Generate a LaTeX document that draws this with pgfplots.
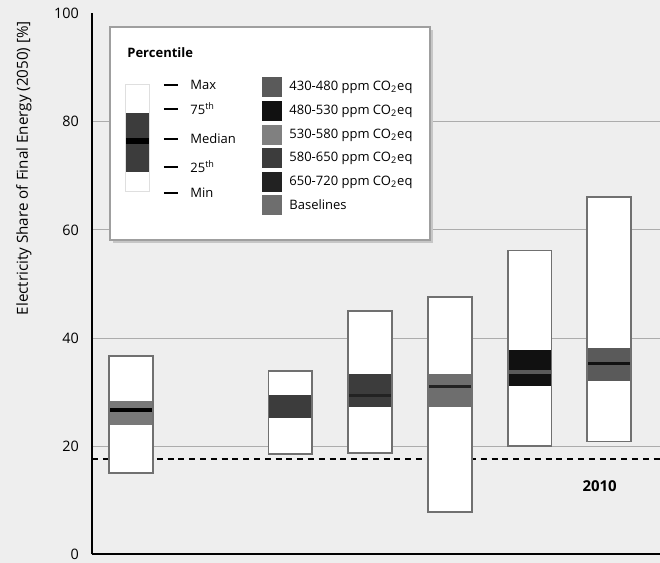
\documentclass[border=0pt]{standalone}
\usepackage{fontspec}
\setmainfont{Open Sans}
\usepackage{pgfplots}
\pgfplotsset{compat=1.18}
\definecolor{bg}{HTML}{EEEEEE}
\definecolor{edge}{HTML}{707070}
\definecolor{cA}{HTML}{5A5A5A}
\definecolor{cB}{HTML}{111111}
\definecolor{cC}{HTML}{808080}
\definecolor{cD}{HTML}{3C3C3C}
\definecolor{cE}{HTML}{222222}
\definecolor{cF}{HTML}{6E6E6E}
\definecolor{cG}{HTML}{787878}
% left x, right x, min, q1, median, q3, max, band colour, median colour
\newcommand{\ebox}[9]{%
\addplot[fill=white, draw=none] coordinates {(#1,#3) (#2,#3) (#2,#7) (#1,#7)} -- cycle;
\addplot[fill=#8, draw=none] coordinates {(#1,#4) (#2,#4) (#2,#6) (#1,#6)} -- cycle;
\addplot[#9, line width=1.7pt] coordinates {(#1,#5) (#2,#5)};
\addplot[edge, line width=0.9pt] coordinates {(#1,#3) (#2,#3) (#2,#7) (#1,#7)} -- cycle;
}
\begin{document}
\begin{tikzpicture}[font=\fontsize{6.5}{8}\selectfont]
\fill[bg] (-46pt,-4.25pt) rectangle (284pt,277.25pt);
\begin{axis}[
  at={(0,0)}, anchor=south west,
  scale only axis, width=284pt, height=270.5pt,
  xmin=-0.489, xmax=6.637, ymin=0, ymax=100,
  axis x line*=bottom, axis y line*=left,
  axis line style={black, line width=1pt},
  xtick=\empty,
  ytick={0,20,40,60,80}, extra y ticks={100}, extra y tick style={grid=none},
  ymajorgrids, grid style={gray!65, line width=0.5pt},
  major tick length=0pt,
  /pgf/number format/assume math mode=true,
  yticklabel style={font=\fontsize{7.2}{8}\selectfont, xshift=-3pt},
  ylabel={Electricity Share of Final Energy (2050) [\%]},
  every axis y label/.style={at={([xshift=-34pt]axis description cs:0,0.714)}, rotate=90, anchor=center, font=\fontsize{7.6}{8}\selectfont},
]
\addplot[black, line width=1pt, dash pattern=on 3pt off 2.4pt] coordinates {(-0.489,17.7) (6.637,17.7)};
\ebox{-0.275}{0.275}{15.0}{23.9}{26.7}{28.4}{36.7}{cG}{black}
\ebox{1.725}{2.275}{18.6}{25.3}{27.4}{29.5}{33.9}{cD}{cD}
\ebox{2.725}{3.275}{18.7}{27.3}{29.4}{33.3}{45.0}{cD}{cE}
\ebox{3.725}{4.275}{7.8}{27.3}{31.0}{33.3}{47.6}{cF}{cE}
\ebox{4.725}{5.275}{20.0}{31.1}{33.7}{37.8}{56.2}{cB}{cA}
\ebox{5.725}{6.275}{20.9}{32.0}{35.3}{38.1}{66.1}{cA}{cB}
\node[font=\fontsize{7.5}{8}\selectfont\bfseries] at (axis cs:5.88,12.7) {2010};
\end{axis}
\begin{scope}[x=0.5pt, y=-0.5pt, shift={(-46pt,277.25pt)}]
  \fill[gray!45] (113,30) rectangle (433,243);
  \draw[gray!75, fill=white, line width=0.6pt] (110,27) rectangle (430,240);
  \node[anchor=west, font=\fontsize{6.5}{8}\selectfont\bfseries, inner sep=0pt] at (127,53) {Percentile};
  % percentile schematic
  \fill[white] (126,85) rectangle (150,192);
  \fill[cD] (126,113) rectangle (150,172);
  \fill[black] (126,138) rectangle (150,144);
  \draw[gray!25, line width=0.5pt] (126,85) rectangle (150,192);
  \foreach \yy/\tt in {85/Max, 109/75\textsuperscript{th}, 139/Median, 167/25\textsuperscript{th}, 193/Min}{
    \draw[black, line width=0.7pt] (164,\yy) -- (178,\yy);
    \node[anchor=west, inner sep=0pt] at (190,\yy) {\tt};
  }
  \foreach \yy/\cc/\tt in {87/cA/430-480 ppm CO\textsubscript{2}eq, 111/cB/480-530 ppm CO\textsubscript{2}eq,
      135/cC/530-580 ppm CO\textsubscript{2}eq, 158/cD/580-650 ppm CO\textsubscript{2}eq,
      182/cE/650-720 ppm CO\textsubscript{2}eq, 205/cF/Baselines}{
    \fill[\cc] (262,\yy-10) rectangle (282,\yy+10);
    \node[anchor=west, inner sep=0pt] at (289,\yy) {\tt};
  }
\end{scope}
\pgfresetboundingbox
\useasboundingbox (-46pt,-4.25pt) rectangle (284pt,277.25pt);
\end{tikzpicture}
\end{document}
